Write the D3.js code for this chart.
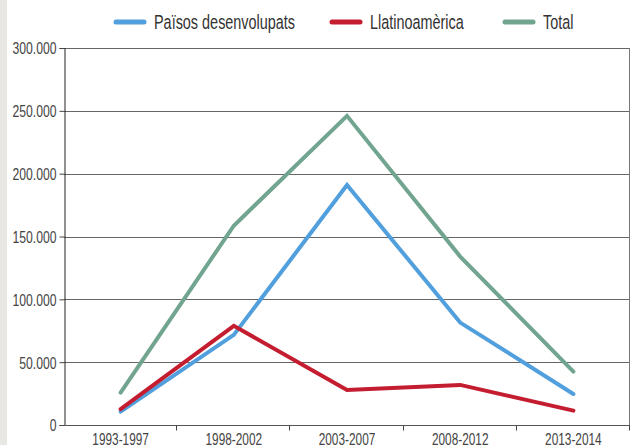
<!DOCTYPE html>
<html>
<head>
<meta charset="utf-8">
<script src="https://cdn.jsdelivr.net/npm/d3@7"></script>
<style>
  body { margin: 0; background: #fff; }
  svg text { font-family: "Liberation Sans", Arial, sans-serif; }
</style>
</head>
<body>
<div id="chart"></div>
<script>
// periods on the x axis
const periods = ["1993-1997", "1998-2002", "2003-2007", "2008-2012", "2013-2014"];
// series values
const desenvolupats = [10600, 71700, 191000, 81500, 24700];
const llatinoamerica = [12700, 78900, 27900, 31900, 11400];
const total = [25700, 158600, 246000, 134000, 42500];
const yTicks = [0, 50000, 100000, 150000, 200000, 250000, 300000];
const seriesNames = ["Països desenvolupats", "Llatinoamèrica", "Total"];

const width = 631, height = 445;
const margin = {top: 48, right: 1, bottom: 20, left: 64};
const squeeze = 0.74; // the original uses a condensed face

const svg = d3.select("#chart").append("svg")
    .attr("width", width).attr("height", height);

// light strip on the left edge
svg.append("rect").attr("x", 0).attr("y", 0).attr("width", 7).attr("height", height)
    .attr("fill", "#e9e7e4");

const x = d3.scaleBand().domain(periods).range([margin.left, width - margin.right]);
const y = d3.scaleLinear().domain([0, 300000]).range([height - margin.bottom, margin.top]);

const fmt = d3.formatLocale({decimal: ",", thousands: ".", grouping: [3], currency: ["", "€"]}).format(",");

//Gridlines
svg.append("g").selectAll("line").data(yTicks.slice(1)).join("line")
    .attr("x1", margin.left).attr("x2", width - margin.right)
    .attr("y1", d => Math.round(y(d)) + 0.5).attr("y2", d => Math.round(y(d)) + 0.5)
    .attr("stroke", "#666").attr("stroke-width", 1);

// right border
svg.append("line")
    .attr("x1", width - margin.right - 0.5).attr("x2", width - margin.right - 0.5)
    .attr("y1", margin.top).attr("y2", y(0) + 5)
    .attr("stroke", "#777");

//Y axis
const yAxis = svg.append("g").attr("transform", `translate(${margin.left + 0.5},0)`)
    .call(d3.axisLeft(y).tickValues(yTicks).tickFormat(d => d === 0 ? "0" : fmt(d)).tickSize(5));
yAxis.select(".domain").attr("stroke", "#222");
yAxis.selectAll(".tick line").attr("stroke", "#444");
yAxis.selectAll(".tick text")
    .attr("x", 0).attr("dy", "0.36em")
    .attr("transform", `translate(-8,0) scale(${squeeze},1)`)
    .attr("font-size", 16.5).attr("fill", "#444");

//X axis with ticks on band edges
const xAxisG = svg.append("g").attr("transform", `translate(0,${Math.round(y(0)) + 0.5})`);
xAxisG.append("line").attr("x1", margin.left).attr("x2", width - margin.right)
    .attr("stroke", "#555");
xAxisG.selectAll(".edge").data(periods).join("line")
    .attr("class", "edge")
    .attr("x1", d => Math.round(x(d) + x.bandwidth()) - 0.5)
    .attr("x2", d => Math.round(x(d) + x.bandwidth()) - 0.5)
    .attr("y1", 0).attr("y2", 5).attr("stroke", "#444");
xAxisG.selectAll("text").data(periods).join("text")
    .attr("transform", d => `translate(${x(d) + x.bandwidth() / 2},19) scale(${squeeze},1)`)
    .attr("text-anchor", "middle")
    .attr("font-size", 16).attr("fill", "#444")
    .text(d => d);

//Lines
const colors = ["#519fdc", "#c51d30", "#72a590"];
const data = [desenvolupats, llatinoamerica, total];
const line = d3.line().x((d, i) => x(periods[i]) + x.bandwidth() / 2).y(d => y(d));

svg.append("g").selectAll("path").data(data).join("path")
    .attr("d", line)
    .attr("fill", "none")
    .attr("stroke", (d, i) => colors[i])
    .attr("stroke-width", 4)
    .attr("stroke-linecap", "round")
    .attr("stroke-linejoin", "miter");

//Legend
const legendX = [116, 332, 505];
const legend = svg.append("g").selectAll("g").data(seriesNames).join("g")
    .attr("transform", (d, i) => `translate(${legendX[i]},22)`);
legend.append("line").attr("x1", 0).attr("x2", 28)
    .attr("stroke", (d, i) => colors[i]).attr("stroke-width", 5).attr("stroke-linecap", "round");
legend.append("text")
    .attr("transform", `translate(38,7) scale(${squeeze},1)`)
    .attr("font-size", 19.5).attr("fill", "#333")
    .text(d => d);
</script>
</body>
</html>
